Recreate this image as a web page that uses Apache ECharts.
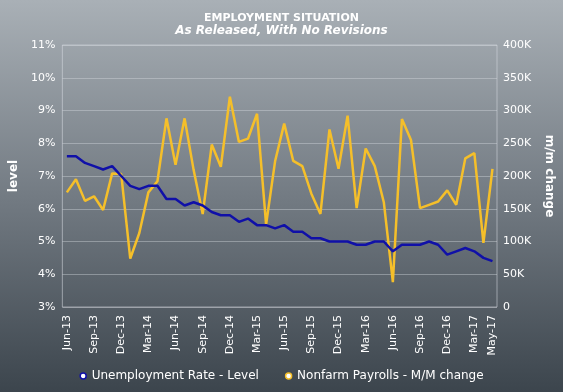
<!DOCTYPE html>
<html><head><meta charset="utf-8">
<script src="https://cdn.jsdelivr.net/npm/echarts@6/dist/echarts.min.js"></script>
<style>html,body{margin:0;padding:0;}#c{width:563px;height:392px;}</style>
</head><body><div id="c"></div>
<script>
const months = ['Jun-13','Jul-13','Aug-13','Sep-13','Oct-13','Nov-13','Dec-13','Jan-14','Feb-14','Mar-14','Apr-14','May-14',
'Jun-14','Jul-14','Aug-14','Sep-14','Oct-14','Nov-14','Dec-14','Jan-15','Feb-15','Mar-15','Apr-15','May-15',
'Jun-15','Jul-15','Aug-15','Sep-15','Oct-15','Nov-15','Dec-15','Jan-16','Feb-16','Mar-16','Apr-16','May-16',
'Jun-16','Jul-16','Aug-16','Sep-16','Oct-16','Nov-16','Dec-16','Jan-17','Feb-17','Mar-17','Apr-17','May-17'];
const unemploymentRate = [7.6,7.6,7.4,7.3,7.2,7.3,7.0,6.7,6.6,6.7,6.7,6.3,
6.3,6.1,6.2,6.1,5.9,5.8,5.8,5.6,5.7,5.5,5.5,5.4,
5.5,5.3,5.3,5.1,5.1,5.0,5.0,5.0,4.9,4.9,5.0,5.0,
4.7,4.9,4.9,4.9,5.0,4.9,4.6,4.7,4.8,4.7,4.5,4.4];
const nonfarmPayrolls = [175,195,162,169,148,204,203,74,113,175,192,288,
217,288,209,142,248,214,321,252,257,295,126,223,
280,223,215,173,142,271,211,292,151,242,215,160,
38,287,255,151,156,161,178,156,227,235,98,211];
const xLabelIdx = [0,3,6,9,12,15,18,21,24,27,30,33,36,39,42,45,47];

const chart = echarts.init(document.getElementById('c'));
const font = 'DejaVu Sans, Verdana, sans-serif';
chart.setOption({
  backgroundColor: {type:'linear',x:0,y:0,x2:0,y2:1,colorStops:[
    {offset:0,color:'#a9b0b6'},{offset:0.5,color:'#737b83'},{offset:1,color:'#3c454d'}]},
  textStyle:{fontFamily:font},
  title:{
    text:'EMPLOYMENT SITUATION', subtext:'As Released, With No Revisions',
    left:'center', top:8, itemGap:1,
    textStyle:{color:'#ffffff',fontSize:11,fontWeight:'bold',fontFamily:font},
    subtextStyle:{color:'#ffffff',fontSize:12,fontWeight:'bold',fontStyle:'italic',fontFamily:font}
  },
  legend:{
    bottom:5, left:'center', itemGap:26, itemWidth:7, itemHeight:6,
    icon:'circle',
    textStyle:{color:'#ffffff',fontSize:12,fontFamily:font},
    data:[
      {name:'Unemployment Rate - Level',itemStyle:{color:'#ffffff',borderColor:'#1010a8',borderWidth:1.5}},
      {name:'Nonfarm Payrolls - M/M change',itemStyle:{color:'#ffffff',borderColor:'#f5bf2a',borderWidth:1.5}}
    ]
  },
  grid:{left:57,right:63,top:45,bottom:85,containLabel:false,show:true,borderColor:'rgba(215,220,225,0.55)',borderWidth:1},
  xAxis:{
    type:'category', data:months, boundaryGap:true,
    axisLine:{show:false}, axisTick:{show:false},
    axisLabel:{rotate:90,color:'#ffffff',fontSize:11,fontFamily:font,margin:8,
      interval:function(i){return xLabelIdx.indexOf(i)>=0;}},
    splitLine:{show:false}
  },
  yAxis:[
    {type:'value',min:3,max:11,interval:1,position:'left',
     name:'level',nameLocation:'middle',nameGap:40,nameRotate:90,
     nameTextStyle:{color:'#ffffff',fontSize:12,fontWeight:'bold',fontFamily:font},
     axisLine:{show:false},axisTick:{show:false},
     axisLabel:{color:'#ffffff',fontSize:11,fontFamily:font,margin:7,formatter:'{value}%'},
     splitLine:{show:true,lineStyle:{color:'rgba(215,220,225,0.4)',width:1}}},
    {type:'value',min:0,max:400,interval:50,position:'right',
     name:'m/m change',nameLocation:'middle',nameGap:46,nameRotate:-90,
     nameTextStyle:{color:'#ffffff',fontSize:12,fontWeight:'bold',fontFamily:font},
     axisLine:{show:false},axisTick:{show:false},
     axisLabel:{color:'#ffffff',fontSize:11,fontFamily:font,margin:6,formatter:function(v){return v===0?'0':v+'K';}},
     splitLine:{show:false}}
  ],
  series:[
    {name:'Nonfarm Payrolls - M/M change',type:'line',yAxisIndex:1,data:nonfarmPayrolls,
     showSymbol:false,symbol:'circle',lineStyle:{color:'#f5bf2a',width:2.5},itemStyle:{color:'#f5bf2a'},z:2,animation:false},
    {name:'Unemployment Rate - Level',type:'line',yAxisIndex:0,data:unemploymentRate,
     showSymbol:false,symbol:'circle',lineStyle:{color:'#1010a8',width:2.5},itemStyle:{color:'#1010a8'},z:3,animation:false}
  ]
});
</script></body></html>
